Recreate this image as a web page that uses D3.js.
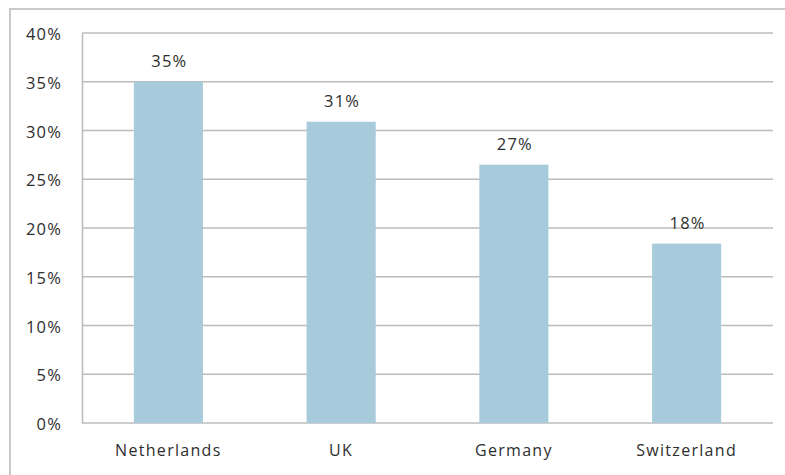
<!DOCTYPE html>
<html>
<head>
<meta charset="utf-8">
<script src="https://cdn.jsdelivr.net/npm/d3@7"></script>
<style>
  body { margin: 0; background: #fff; }
  text { font-family: "Open Sans", sans-serif; fill: #2e2e2e; }
</style>
</head>
<body>
<svg class="chart"></svg>
<script>
const countries = ['Netherlands', 'UK', 'Germany', 'Switzerland']
const shares = [35, 30.9, 26.5, 18.4]
const shareLabels = ['35%', '31%', '27%', '18%']
const yTicks = [0, 5, 10, 15, 20, 25, 30, 35, 40]

function chart(){
    const svg = d3.select('.chart')
        .attr('width', 785)
        .attr('height', 475)

    // outer frame (runs off the right and bottom edge)
    svg.append('rect')
        .attr('x', 10).attr('y', 9)
        .attr('width', 800).attr('height', 500)
        .attr('fill', 'none')
        .attr('stroke', '#c9c9c9')
        .attr('stroke-width', 2)

    const margin = {top: 33, right: 12, bottom: 52, left: 82}
    const innerWidth = 785 - margin.left - margin.right
    const innerHeight = 475 - margin.top - margin.bottom

    const g = svg.append('g')
        .attr('transform', `translate(${margin.left}, ${margin.top})`)

    const xScale = d3.scaleBand()
        .domain(countries)
        .range([0, innerWidth])
        .paddingInner(0.6)
        .paddingOuter(0.3)

    const yScale = d3.scaleLinear()
        .domain([0, 40])
        .range([innerHeight, 0])

    // gridlines
    g.selectAll('.grid')
        .data(yTicks)
        .enter().append('line')
        .attr('x1', 0).attr('x2', innerWidth)
        .attr('y1', d => yScale(d)).attr('y2', d => yScale(d))
        .attr('stroke', '#bcbcbc')
        .attr('stroke-width', 1.5)

    // y axis
    const yAxisG = g.append('g')
        .call(d3.axisLeft(yScale).tickValues(yTicks).tickSize(0).tickPadding(20).tickFormat(d => d + '%'))
    yAxisG.select('.domain').attr('stroke', '#bcbcbc').attr('stroke-width', 1.5)
    yAxisG.selectAll('text')
        .attr('font-size', 16.5)
        .attr('dy', '0.4em')
        .style('letter-spacing', '1.2px')
        .style('font-family', '"Open Sans", sans-serif')
        .attr('fill', '#2e2e2e')

    // bars
    g.selectAll('rect')
        .data(shares)
        .enter().append('rect')
        .attr('x', (d, i) => xScale(countries[i]))
        .attr('width', xScale.bandwidth())
        .attr('y', d => yScale(d))
        .attr('height', d => yScale(0) - yScale(d))
        .attr('fill', '#a7cbdb')

    // value labels
    g.selectAll('.val')
        .data(shares)
        .enter().append('text')
        .attr('x', (d, i) => xScale(countries[i]) + xScale.bandwidth() / 2 + 1)
        .attr('y', d => yScale(d) - 15)
        .attr('text-anchor', 'middle')
        .attr('font-size', 16.5)
        .style('letter-spacing', '1.2px')
        .text((d, i) => shareLabels[i])

    // x axis
    const xAxisG = g.append('g')
        .attr('transform', `translate(0, ${innerHeight})`)
        .call(d3.axisBottom(xScale).tickSize(0).tickPadding(22))
    xAxisG.select('.domain').remove()
    xAxisG.selectAll('text')
        .attr('font-size', 16)
        .style('letter-spacing', '1.3px')
        .style('font-family', '"Open Sans", sans-serif')
        .attr('fill', '#2e2e2e')
}
chart()
</script>
</body>
</html>
